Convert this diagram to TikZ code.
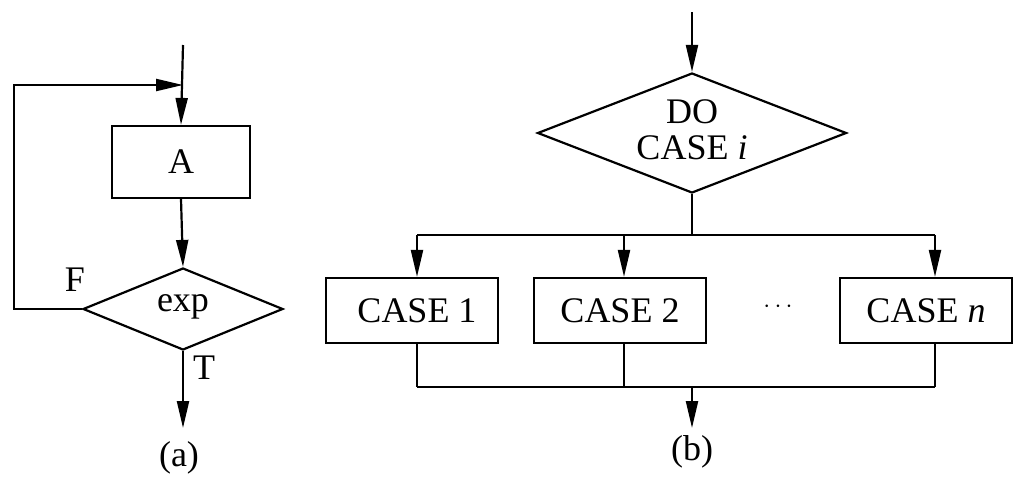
\documentclass[tikz,border=0pt]{standalone}
\usepackage{fontspec}
\setmainfont{Liberation Serif}
\usetikzlibrary{arrows.meta,shapes.geometric}
\begin{document}
\begin{tikzpicture}[x=1pt,y=-1pt,
  line width=2.2pt,
  every node/.style={font=\fontsize{36}{42}\selectfont},
  arr/.style={-{Triangle[length=27pt,width=12pt]}},
  box/.style={draw,rectangle,inner sep=0pt},
  dia/.style={draw,diamond,inner sep=0pt},
  lbl/.style={inner sep=0pt,align=center}]
\useasboundingbox (0,0) rectangle (1020,482);
% ---------- (a) ----------
\node[box,minimum width=138pt,minimum height=72pt] (A) at (181,162) {A};
\node[dia,minimum width=200pt,minimum height=82pt] (exp) at (183,309) {};
\node[lbl] (expt) at (183,307) {exp};
\coordinate (atop) at (183,45);
\coordinate (loopin) at (183,85);
\coordinate (lc1) at (14,309);
\coordinate (lc2) at (14,85);
\coordinate (aout) at (183,428);
\draw[arr] (atop) -- (A.north);
\draw[arr] (exp.west) -- (lc1) -- (lc2) -- (loopin);
\draw[arr] (A.south) -- (exp.north);
\draw[arr] (exp.south) -- (aout);
\node[lbl] (F) at (75,280) {F};
\node[lbl] (T) at (204,368) {T};
\node[lbl] (capa) at (179,458) {(a)};
% ---------- (b) ----------
\node[dia,minimum width=309pt,minimum height=120pt] (do) at (692,133) {};
\node[lbl] (dot) at (692,130) {DO\\[-6pt]CASE \textit{i}};
\node[box,minimum width=172pt,minimum height=65pt] (c1) at (412,310.5) {\hspace*{10pt}CASE 1};
\node[box,minimum width=172pt,minimum height=65pt] (c2) at (620,310.5) {CASE 2};
\node[box,minimum width=172pt,minimum height=65pt] (cn) at (926,310.5) {CASE \textit{n}};
\node[lbl] (dots) at (778,307) {$\cdots$};
\coordinate (btop) at (692,12);
\coordinate (bus1) at (692,235);
\coordinate (bl) at (417,235);
\coordinate (bm) at (624,235);
\coordinate (br) at (935,235);
\coordinate (ql) at (417,387);
\coordinate (qm) at (624,387);
\coordinate (qr) at (935,387);
\coordinate (qc) at (692,387);
\coordinate (bout) at (692,428);
\draw[arr] (btop) -- (do.north);
\draw (do.south) -- (bus1);
\draw (bl) -- (br);
\draw[arr] (bl) -- (bl |- c1.north);
\draw[arr] (bm) -- (bm |- c2.north);
\draw[arr] (br) -- (br |- cn.north);
\draw (ql |- c1.south) -- (ql);
\draw (qm |- c2.south) -- (qm);
\draw (qr |- cn.south) -- (qr);
\draw (ql) -- (qr);
\draw[arr] (qc) -- (bout);
\node[lbl] (capb) at (692,452) {(b)};
\end{tikzpicture}
\end{document}
